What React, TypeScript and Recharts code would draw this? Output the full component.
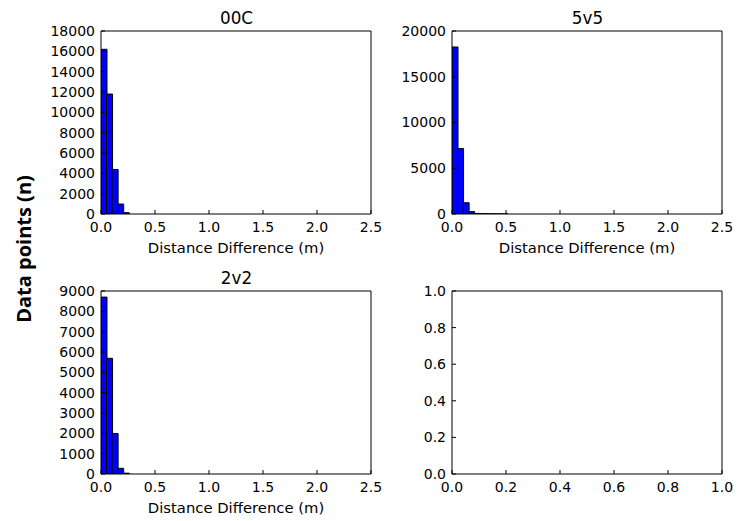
import { BarChart, Bar, XAxis, YAxis } from 'recharts';

// histogram bin centres, metres (bin width ~0.0515)
const binCenters = [0.02575, 0.07725, 0.12875, 0.18025, 0.23175, 0.28325, 0.33475, 0.38625, 0.43775, 0.48925];

const counts00C = [16200, 11800, 4380, 980, 130, 0, 0, 0, 0, 0];
const counts5v5 = [18250, 7150, 1230, 260, 60, 25, 12, 6, 3, 1];
const counts2v2 = [8700, 5690, 1990, 280, 40, 0, 0, 0, 0, 0];

const distTicks = [0, 0.5, 1, 1.5, 2, 2.5];
const ticks00C = [0, 2000, 4000, 6000, 8000, 10000, 12000, 14000, 16000, 18000];
const ticks5v5 = [0, 5000, 10000, 15000, 20000];
const ticks2v2 = [0, 1000, 2000, 3000, 4000, 5000, 6000, 7000, 8000, 9000];
const unitTicks = [0, 0.2, 0.4, 0.6, 0.8, 1];
const unitX = [0, 1];

const PLOT_W = 271;
const PLOT_H = 184;
const AXIS_W = 70;
const XAXIS_H = 45;
const PAD_TOP = 10;
const PAD_RIGHT = 20;

const FONT = "'DejaVu Sans', sans-serif";
const tickStyle = { fontSize: 14, fill: '#000', fontFamily: FONT };

const toRows = (counts: number[]) => binCenters.map((x, i) => ({ x, n: counts[i] }));

interface PanelProps {
  left: number;
  top: number;
  data: { x: number; n?: number }[];
  xTicks: number[];
  yTicks: number[];
  yFmt?: (v: number) => string;
  xLabel?: string;
  bars?: boolean;
}

function Panel({ left, top, data, xTicks, yTicks, yFmt, xLabel, bars = true }: PanelProps) {
  const xDomain = [xTicks[0], xTicks[xTicks.length - 1]];
  const yDomain = [yTicks[0], yTicks[yTicks.length - 1]];
  const fmt1 = (v: number) => v.toFixed(1);
  return (
    <div style={{ position: 'absolute', left: left - AXIS_W, top: top - PAD_TOP }}>
      <BarChart
        width={AXIS_W + PLOT_W + PAD_RIGHT}
        height={PAD_TOP + PLOT_H + XAXIS_H}
        data={data}
        margin={{ top: PAD_TOP, right: PAD_RIGHT, left: 0, bottom: 0 }}
        barCategoryGap={0}
        barGap={0}
        style={{ overflow: 'visible' }}
      >
        <XAxis
          xAxisId="bottom"
          dataKey="x"
          type="number"
          domain={xDomain}
          allowDataOverflow
          ticks={xTicks}
          interval={0}
          tickFormatter={fmt1}
          height={XAXIS_H}
          tickSize={-4}
          tickMargin={12}
          stroke="#000"
          tick={tickStyle}
          label={
            xLabel
              ? { value: xLabel, position: 'insideBottom', offset: 6, fill: '#000', fontSize: 14.8, fontFamily: FONT }
              : undefined
          }
        />
        <XAxis
          xAxisId="top"
          orientation="top"
          dataKey="x"
          type="number"
          domain={xDomain}
          allowDataOverflow
          ticks={xTicks}
          interval={0}
          height={1}
          tickSize={-4}
          tick={false}
          stroke="#000"
        />
        <YAxis
          yAxisId="left"
          type="number"
          domain={yDomain}
          allowDataOverflow
          ticks={yTicks}
          interval={0}
          tickFormatter={yFmt}
          width={AXIS_W}
          tickSize={-4}
          tickMargin={10}
          stroke="#000"
          tick={tickStyle}
        />
        <YAxis
          yAxisId="right"
          orientation="right"
          type="number"
          domain={yDomain}
          allowDataOverflow
          ticks={yTicks}
          interval={0}
          width={1}
          tickSize={-4}
          tick={false}
          stroke="#000"
        />
        {bars && (
          <Bar
            xAxisId="bottom"
            yAxisId="left"
            dataKey="n"
            fill="#0000ff"
            stroke="#000"
            strokeWidth={1}
            isAnimationActive={false}
          />
        )}
      </BarChart>
    </div>
  );
}

export default function App() {
  const titleStyle = { fontSize: 16.8, fill: '#000', fontFamily: FONT };
  return (
    <div style={{ position: 'absolute', left: 0, top: 0, width: 752, height: 521, background: '#fff' }}>
      <Panel left={101} top={30} data={toRows(counts00C)} xTicks={distTicks} yTicks={ticks00C} xLabel="Distance Difference (m)" />
      <Panel left={452} top={30} data={toRows(counts5v5)} xTicks={distTicks} yTicks={ticks5v5} xLabel="Distance Difference (m)" />
      <Panel left={101} top={290} data={toRows(counts2v2)} xTicks={distTicks} yTicks={ticks2v2} xLabel="Distance Difference (m)" />
      <Panel
        left={452}
        top={290}
        data={unitX.map((x) => ({ x }))}
        xTicks={unitTicks}
        yTicks={unitTicks}
        yFmt={(v: number) => v.toFixed(1)}
        bars={false}
      />
      <svg width={752} height={521} style={{ position: 'absolute', left: 0, top: 0, pointerEvents: 'none' }}>
        <text x={236.5} y={23.5} textAnchor="middle" {...titleStyle}>00C</text>
        <text x={587.5} y={23.5} textAnchor="middle" {...titleStyle}>5v5</text>
        <text x={236.5} y={283.5} textAnchor="middle" {...titleStyle}>2v2</text>
        <text
          transform="translate(31,249) rotate(-90)"
          textAnchor="middle"
          fontSize={20}
          fontWeight="bold"
          fontFamily="'Open Sans', sans-serif"
          fill="#000"
        >
          Data points (n)
        </text>
      </svg>
    </div>
  );
}
